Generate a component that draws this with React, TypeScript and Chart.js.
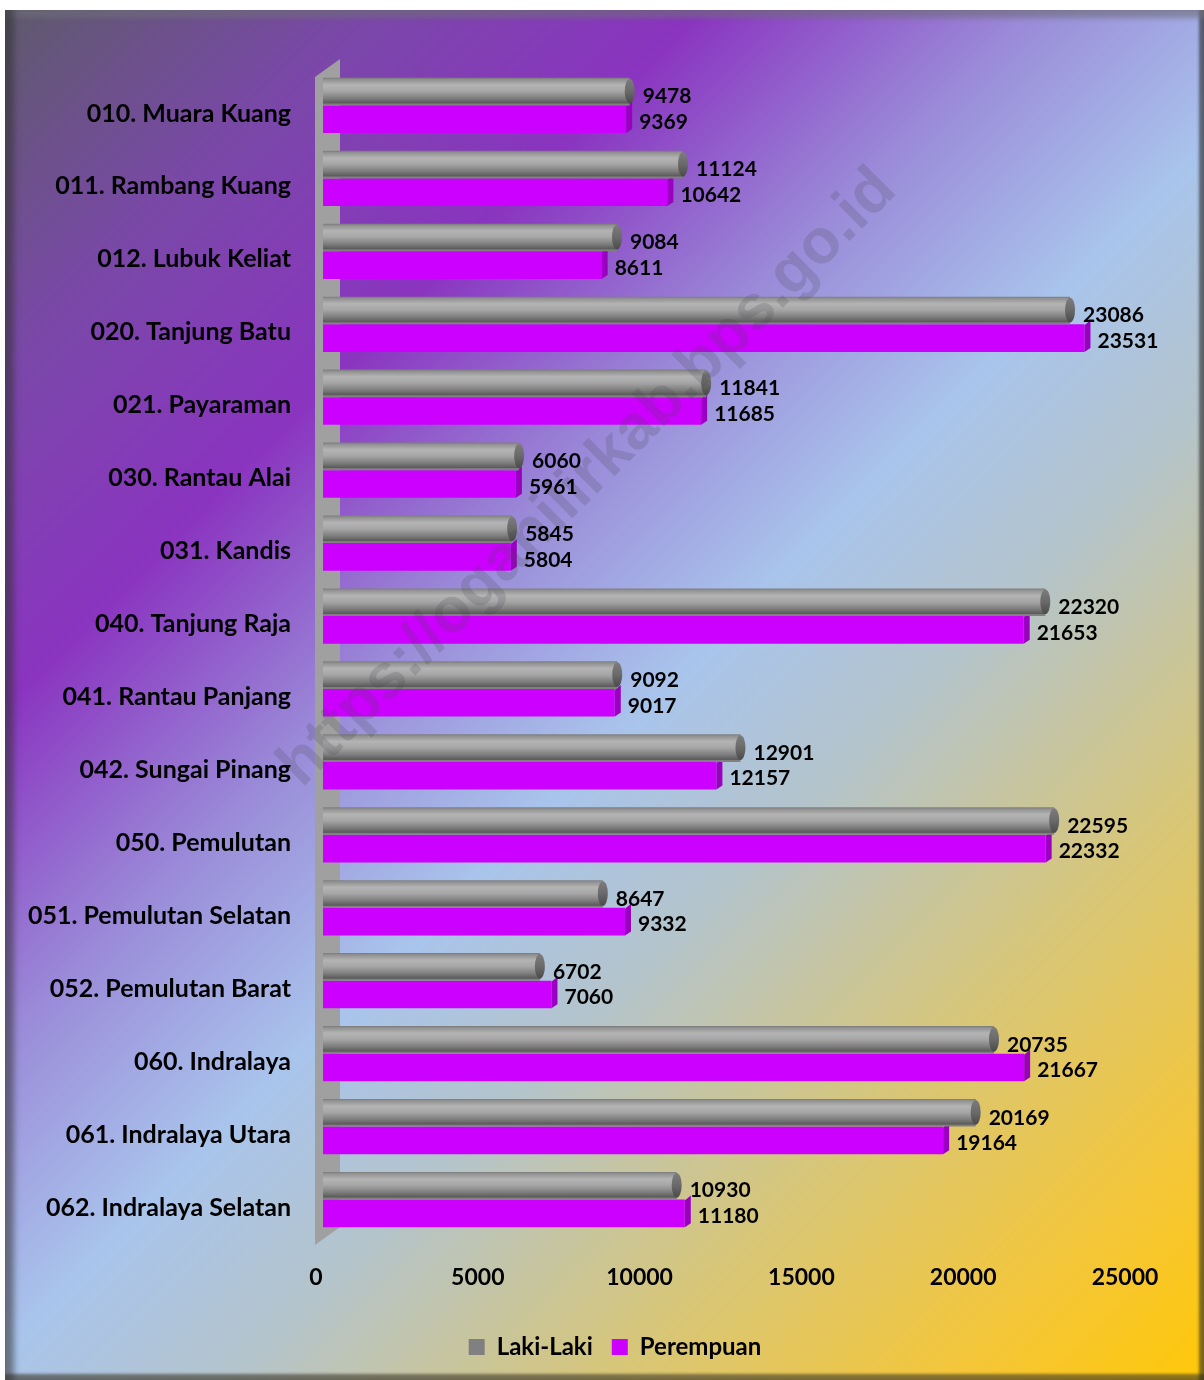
import React, { useEffect, useRef } from "react";
import { Chart, registerables } from "chart.js";

Chart.register(...registerables);

const categories = [
  "010. Muara Kuang",
  "011. Rambang Kuang",
  "012. Lubuk Keliat",
  "020. Tanjung Batu",
  "021. Payaraman",
  "030. Rantau Alai",
  "031. Kandis",
  "040. Tanjung Raja",
  "041. Rantau Panjang",
  "042. Sungai Pinang",
  "050. Pemulutan",
  "051. Pemulutan Selatan",
  "052. Pemulutan Barat",
  "060. Indralaya",
  "061. Indralaya Utara",
  "062. Indralaya Selatan",
];

const lakiLaki = [9478, 11124, 9084, 23086, 11841, 6060, 5845, 22320, 9092, 12901, 22595, 8647, 6702, 20735, 20169, 10930];
const perempuan = [9369, 10642, 8611, 23531, 11685, 5961, 5804, 21653, 9017, 12157, 22332, 9332, 7060, 21667, 19164, 11180];

const seriesNames = ["Laki-Laki", "Perempuan"];
const xMin = 0;
const xMax = 25000;
const xStep = 5000;
const watermarkText = "https://oganilirkab.bps.go.id";

const W = 1199;
const CW = 1220;
const H = 1370;
const FONT = "Lato, 'Open Sans', 'DejaVu Sans', sans-serif";

const decorPlugin = {
  id: "decor",
  beforeDatasetsDraw(chart: any) {
    const { ctx, chartArea } = chart;
    const x0 = chart.scales.x.getPixelForValue(0);
    ctx.save();
    ctx.beginPath();
    ctx.moveTo(x0 - 8, chartArea.top + 8);
    ctx.lineTo(x0 + 17, chartArea.top - 10);
    ctx.lineTo(x0 + 17, chartArea.bottom - 9);
    ctx.lineTo(x0 - 8, chartArea.bottom + 9);
    ctx.closePath();
    ctx.fillStyle = "#a0a0a0";
    ctx.fill();
    ctx.restore();
  },
  afterDatasetDraw(chart: any, args: any) {
    const { ctx } = chart;
    const meta = args.meta;
    ctx.save();
    meta.data.forEach((el: any) => {
      const p = el.getProps(["x", "y", "base", "height"], true);
      const top = p.y - p.height / 2;
      const bottom = p.y + p.height / 2;
      if (args.index === 0) {
        const t = top + 1;
        const b = bottom - 2;
        const g = ctx.createLinearGradient(0, t, 0, b);
        g.addColorStop(0, "#8c8c8c");
        g.addColorStop(0.25, "#b4b4b4");
        g.addColorStop(0.5, "#a6a6a6");
        g.addColorStop(0.8, "#7c7c7c");
        g.addColorStop(1, "#575757");
        ctx.fillStyle = g;
        ctx.fillRect(p.base, t, p.x - p.base, b - t);
        const gc = ctx.createLinearGradient(0, t, 0, b);
        gc.addColorStop(0, "#7c7c7c");
        gc.addColorStop(0.5, "#6a6a6a");
        gc.addColorStop(1, "#4a4a4a");
        ctx.beginPath();
        ctx.ellipse(p.x, (t + b) / 2, 5, (b - t) / 2, 0, 0, Math.PI * 2);
        ctx.fillStyle = gc;
        ctx.fill();
      } else {
        ctx.beginPath();
        ctx.moveTo(p.x, top + 1);
        ctx.lineTo(p.x + 6, top - 4);
        ctx.lineTo(p.x + 6, bottom - 4);
        ctx.lineTo(p.x, bottom);
        ctx.closePath();
        ctx.fillStyle = "#9a00c0";
        ctx.fill();
      }
    });
    ctx.restore();
  },
  afterDatasetsDraw(chart: any) {
    const { ctx } = chart;
    // watermark
    ctx.save();
    ctx.translate(583, 468);
    ctx.rotate(-Math.PI / 4);
    ctx.font = "bold 63px 'Liberation Sans', Arial, sans-serif";
    ctx.fillStyle = "rgba(70,70,80,0.2)";
    ctx.textAlign = "center";
    ctx.textBaseline = "middle";
    ctx.fillText(watermarkText, 0, 0);
    ctx.restore();
    // data labels
    ctx.save();
    ctx.font = `bold 21px ${FONT}`;
    ctx.fillStyle = "#000000";
    ctx.textAlign = "left";
    ctx.textBaseline = "middle";
    chart.data.datasets.forEach((ds: any, di: number) => {
      const meta = chart.getDatasetMeta(di);
      meta.data.forEach((el: any, i: number) => {
        const p = el.getProps(["x", "y"], true);
        ctx.fillText(String(ds.data[i]), p.x + 13, p.y + (di === 0 ? 5 : 3));
      });
    });
    ctx.restore();
  },
};

export default function App() {
  const canvasRef = useRef<HTMLCanvasElement>(null);

  useEffect(() => {
    const canvas = canvasRef.current;
    if (!canvas) return;
    const chart = new Chart(canvas, {
      type: "bar",
      data: {
        labels: categories,
        datasets: [
          {
            label: seriesNames[0],
            data: lakiLaki,
            backgroundColor: "#808080",
            borderWidth: 0,
            barPercentage: 1,
            categoryPercentage: 0.757,
          },
          {
            label: seriesNames[1],
            data: perempuan,
            backgroundColor: "#cc00ff",
            borderWidth: 0,
            barPercentage: 1,
            categoryPercentage: 0.757,
          },
        ],
      },
      options: {
        indexAxis: "y",
        responsive: false,
        animation: false,
        layout: { padding: { left: 0, right: 0, top: 59, bottom: 11 } },
        scales: {
          x: {
            min: xMin,
            max: xMax,
            grid: { display: false, drawTicks: false },
            border: { display: false },
            ticks: {
              stepSize: xStep,
              padding: 28,
              labelOffset: -7,
              color: "#000000",
              font: { family: FONT, size: 23, weight: "bold" },
              callback: (v: any) => String(v),
            },
            afterFit: (scale: any) => {
              scale.height = 80;
            },
          },
          y: {
            grid: { display: false, drawTicks: false },
            border: { display: false },
            ticks: {
              padding: 32,
              labelOffset: 8,
              color: "#000000",
              font: { family: FONT, size: 25, weight: "bold" },
            },
            afterFit: (scale: any) => {
              scale.width = 318;
            },
          },
          yRight: {
            type: "linear",
            axis: "y",
            position: "right",
            display: true,
            grid: { display: false, drawTicks: false },
            border: { display: false },
            ticks: { display: false },
            afterFit: (scale: any) => {
              scale.width = 93;
            },
          },
        },
        plugins: {
          legend: {
            position: "bottom",
            labels: {
              boxWidth: 16,
              boxHeight: 16,
              padding: 19,
              color: "#000000",
              font: { family: FONT, size: 24, weight: "bold" },
            },
          },
          tooltip: { enabled: false },
        },
      },
      plugins: [decorPlugin],
    } as any);
    if ((document as any).fonts && (document as any).fonts.load) {
      Promise.all([
        (document as any).fonts.load(`bold 20px Lato`),
        (document as any).fonts.load(`bold 54px 'Liberation Sans'`),
      ]).then(() => chart.update());
    }
    return () => chart.destroy();
  }, []);

  return (
    <div
      style={{
        position: "absolute",
        left: 5,
        top: 10,
        width: W,
        height: H,
        background:
          "linear-gradient(135deg, #5e5a6c 0%, #7a48a8 14%, #8a34c0 27%, #9a8ad8 40%, #a9c4ec 52%, #b4c4cc 62%, #d6c67c 76%, #f4c63a 90%, #ffc808 100%)",
        overflow: "hidden",
      }}
    >
      <canvas ref={canvasRef} width={CW} height={H} style={{ position: "absolute", left: 0, top: 0, width: CW, height: H }} />
      <div
        style={{
          position: "absolute",
          inset: 0,
          pointerEvents: "none",
          boxShadow:
            "inset 15px 0 6px -6px rgba(50,50,50,0.55), inset 0 14px 5px -6px rgba(110,110,120,0.6), inset -6px 0 3px -1px rgba(40,40,40,0.6), inset 0 -7px 3px -1px rgba(60,55,40,0.6)",
        }}
      />
    </div>
  );
}
